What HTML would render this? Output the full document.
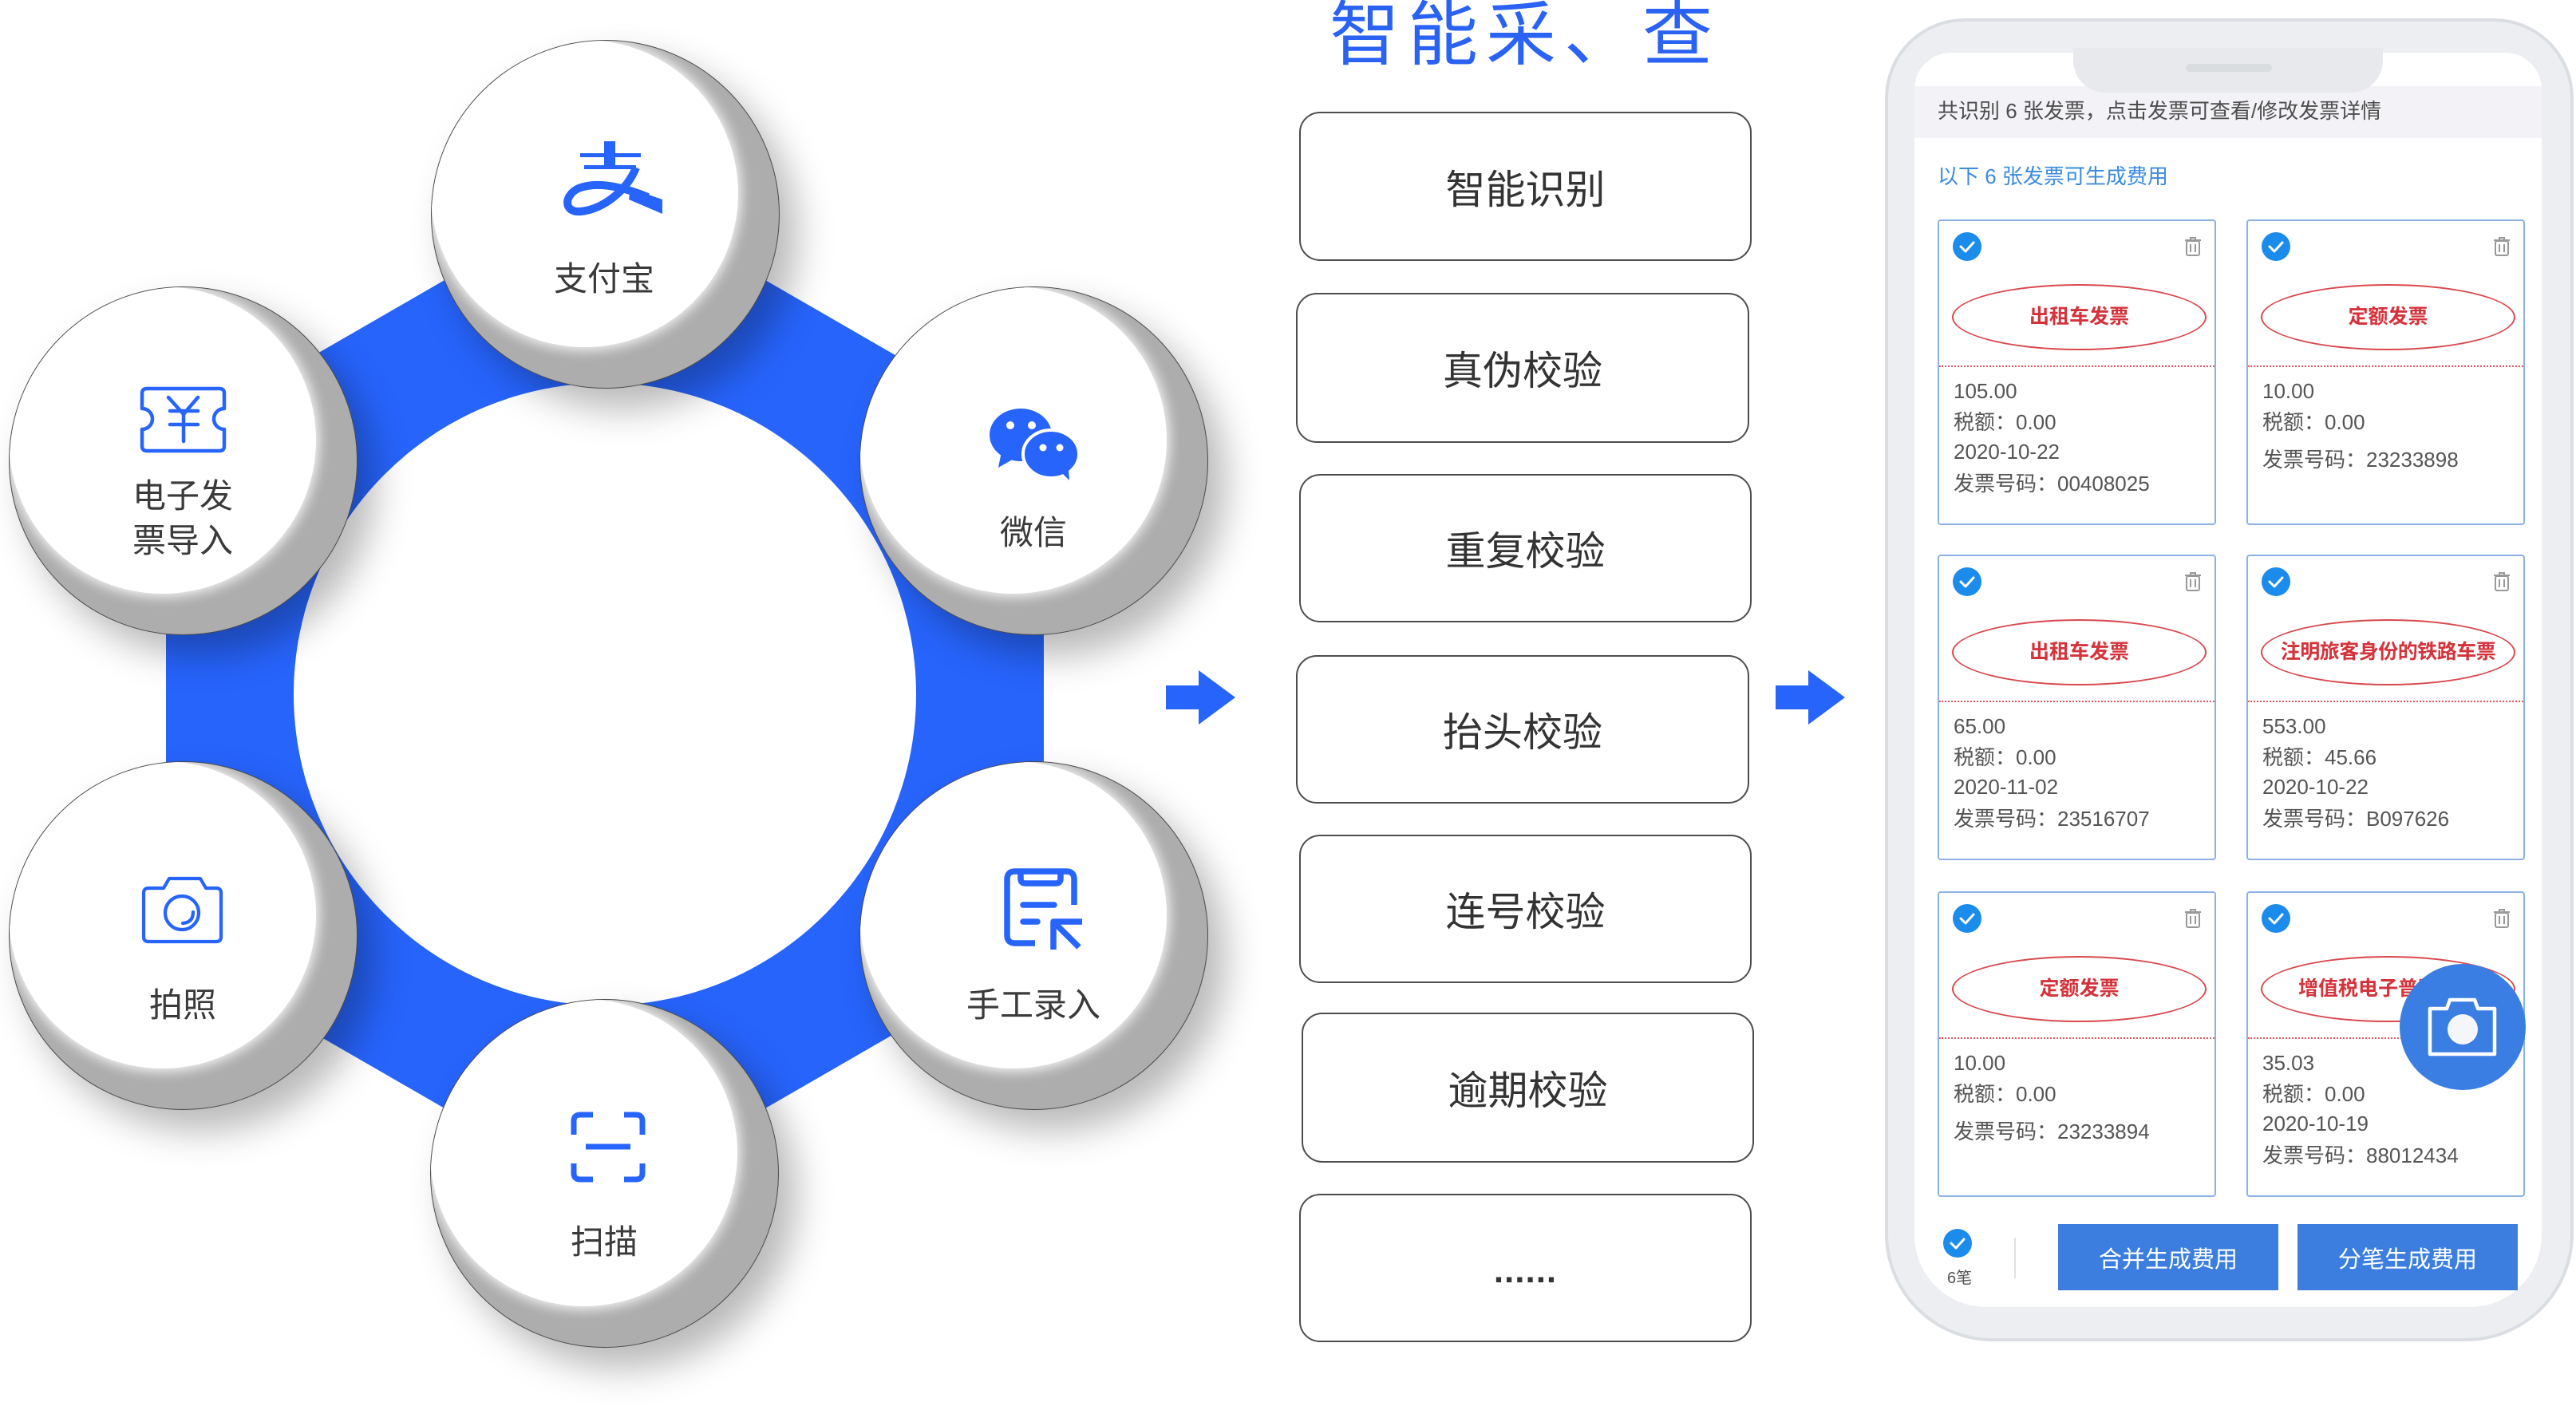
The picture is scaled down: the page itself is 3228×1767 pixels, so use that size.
<!DOCTYPE html>
<html><head><meta charset="utf-8">
<style>
*{margin:0;padding:0;box-sizing:border-box}
html,body{width:3228px;height:1767px;overflow:hidden;background:#fff}
body{position:relative;font-family:"Liberation Sans","Noto Sans CJK SC",sans-serif;color:#333}
.abs{position:absolute}
.circ{position:absolute;width:437px;height:437px;border-radius:50%;border:1.5px solid #4a4a4a;background:#adadad;overflow:hidden;box-shadow:22px 26px 46px rgba(0,0,0,.28);z-index:1}
.circ::before{content:"";position:absolute;left:-1px;top:-1px;width:385px;height:385px;border-radius:50%;background:#fff;box-shadow:0 0 16px 3px rgba(255,255,255,.95)}
.lbl{position:absolute;z-index:3;font-size:42px;line-height:56px;color:#3a3a3a;text-align:center;white-space:nowrap;transform:translateX(-50%)}
.box{position:absolute;border:2px solid #4d4d4d;border-radius:26px;display:flex;align-items:center;justify-content:center;font-size:50px;color:#333;background:#fff}
.phone{position:absolute;left:2362px;top:23px;width:863px;height:1658px;border-radius:100px 100px 135px 135px;background:#eceef1;border:4px solid #dadee2}
.screen{position:absolute;left:2399px;top:66px;width:786px;height:1572px;background:#fff;border-radius:46px 46px 90px 90px;overflow:hidden}
.card{position:absolute;width:349px;height:383px;border:2px solid #8bb2e2;border-radius:4px;background:#fff}
.chk{position:absolute;left:17px;top:14px;width:36px;height:36px}
.trash{position:absolute;left:307px;top:19px;width:22px;height:26px}
.ell{position:absolute;left:16px;top:79px;width:319px;height:83px;border:2.5px solid #d9484e;border-radius:50%;text-align:center;font-size:25px;line-height:78px;color:#d5333b;white-space:nowrap;font-weight:bold}
.dash{position:absolute;left:0;right:0;top:181px;border-top:2px dotted #e0585e}
.ct{position:absolute;left:18px;font-size:26px;line-height:26px;color:#555;white-space:nowrap}
.btn{position:absolute;top:1534px;height:83px;width:276px;background:#3b7ee0;color:#fff;font-size:29px;display:flex;align-items:center;justify-content:center}
</style></head>
<body>

<!-- hexagon ring -->
<svg class="abs" style="left:0;top:0;z-index:0" width="3228" height="1767">
  <polygon points="758,235 1308,552.5 1308,1187.5 758,1505 208,1187.5 208,552.5" fill="#2764fc"/>
  <circle cx="758" cy="870" r="390" fill="#fff"/>
</svg>

<!-- circles -->
<div class="circ" style="left:540px;top:50px"></div>
<div class="circ" style="left:11px;top:359px"></div>
<div class="circ" style="left:1077px;top:359px"></div>
<div class="circ" style="left:11px;top:954px"></div>
<div class="circ" style="left:1077px;top:954px"></div>
<div class="circ" style="left:539px;top:1252px"></div>

<!-- icons & arrows -->
<svg class="abs" style="left:0;top:0;z-index:2" width="3228" height="1767">
  <g fill="#2764fc">
    <!-- alipay -->
    <rect x="757" y="177" width="14" height="33"/>
    <rect x="727" y="192" width="76" height="5"/>
    <rect x="732" y="207" width="65" height="5"/>
    <polygon points="790,236 830,250 830,268 788,250"/>
    <!-- arrows -->
    <rect x="1461" y="859" width="42" height="30"/>
    <polygon points="1502,840 1548,874 1502,908"/>
    <rect x="2225" y="859" width="42" height="30"/>
    <polygon points="2266,840 2312,874 2266,908"/>
    <!-- wechat -->
    <ellipse cx="1279" cy="545" rx="39" ry="33"/>
    <polygon points="1255,566 1251,586 1272,574"/>
  </g>
  <path d="M797 210 C 785 240, 755 262, 728 265 C 706 267, 706 245, 725 236 C 750 226, 785 236, 812 247" fill="none" stroke="#2764fc" stroke-width="10"/>
  <!-- wechat small bubble -->
  <ellipse cx="1317" cy="569" rx="35" ry="30" fill="#2764fc" stroke="#fff" stroke-width="4"/>
  <polygon points="1332,594 1340,602 1339,588" fill="#2764fc"/>
  <g fill="#fff">
    <circle cx="1266" cy="533" r="5"/><circle cx="1293" cy="533" r="5"/>
    <circle cx="1307" cy="561" r="4.5"/><circle cx="1328" cy="561" r="4.5"/>
  </g>
  <!-- ticket -->
  <g fill="none" stroke="#2764fc" stroke-width="4.5" stroke-linecap="round" stroke-linejoin="round">
    <path d="M184 487 H275 Q281 487 281 493 V512 A13 13 0 0 0 281 538 V559 Q281 565 275 565 H184 Q178 565 178 559 V538 A13 13 0 0 0 178 512 V493 Q178 487 184 487 Z"/>
    <polyline points="211,498 230,519 248,498"/>
    <line x1="213" y1="515" x2="248" y2="515"/>
    <line x1="213" y1="532" x2="248" y2="532"/>
    <line x1="230" y1="519" x2="230" y2="553"/>
  </g>
  <!-- manual entry -->
  <g fill="none" stroke="#2764fc" stroke-width="7.5" stroke-linejoin="round">
    <path d="M1297 1182 H1272 Q1262 1182 1262 1172 V1102 Q1262 1092 1272 1092 H1336 Q1346 1092 1346 1102 V1134"/>
    <path d="M1279 1092 V1101 Q1279 1107 1285 1107 H1323 Q1329 1107 1329 1101 V1092"/>
    <path d="M1282 1134 H1321 M1282 1155 H1300" stroke-linecap="round"/>
    <path d="M1356 1155 H1320 V1190 M1321 1156 L1352 1187"/>
  </g>
  <!-- camera -->
  <g fill="none" stroke="#2764fc" stroke-width="4.2" stroke-linejoin="round" stroke-linecap="round">
    <path d="M186 1113 H205 L212 1101 H251 L258 1113 H271 Q277 1113 277 1119 V1174 Q277 1180 271 1180 H186 Q180 1180 180 1174 V1119 Q180 1113 186 1113 Z"/>
    <circle cx="228" cy="1144" r="21"/>
    <path d="M242 1143 Q242 1156 229 1157"/>
  </g>
  <!-- scan -->
  <g fill="none" stroke="#2764fc" stroke-width="7">
    <path d="M719 1422 V1405 Q719 1397 727 1397 H743"/>
    <path d="M782 1397 H797 Q805 1397 805 1405 V1422"/>
    <path d="M719 1458 V1470 Q719 1478 727 1478 H743"/>
    <path d="M782 1478 H797 Q805 1478 805 1470 V1458"/>
    <path d="M734 1437 H790"/>
  </g>
</svg>

<!-- circle labels -->
<div class="lbl" style="left:757px;top:322px">支付宝</div>
<div class="lbl" style="left:229px;top:594px">电子发<br>票导入</div>
<div class="lbl" style="left:1295px;top:640px">微信</div>
<div class="lbl" style="left:1295px;top:1232px">手工录入</div>
<div class="lbl" style="left:229px;top:1232px">拍照</div>
<div class="lbl" style="left:757px;top:1529px">扫描</div>

<!-- title -->
<div class="abs" style="left:1666px;top:0;font-size:88px;line-height:88px;letter-spacing:10px;color:#2a62f4;white-space:nowrap">智能采、查</div>

<!-- boxes -->
<div class="box" style="left:1628px;top:140px;width:567px;height:187px">智能识别</div>
<div class="box" style="left:1624px;top:367px;width:568px;height:188px">真伪校验</div>
<div class="box" style="left:1628px;top:594px;width:567px;height:186px">重复校验</div>
<div class="box" style="left:1624px;top:821px;width:568px;height:186px">抬头校验</div>
<div class="box" style="left:1628px;top:1046px;width:567px;height:186px">连号校验</div>
<div class="box" style="left:1631px;top:1269px;width:567px;height:188px">逾期校验</div>
<div class="box" style="left:1628px;top:1496px;width:567px;height:186px"><span style="font-weight:bold;font-size:44px;letter-spacing:1px;position:relative;top:4px">......</span></div>

<!-- phone -->
<div class="phone"></div>
<div class="screen"></div>
<div class="abs" style="left:2399px;top:108px;width:786px;height:65px;background:#f3f2f7"></div>
<div class="abs" style="left:2598px;top:60px;width:388px;height:56px;background:#e7e9ec;border-radius:0 0 40px 40px"></div>
<div class="abs" style="left:2739px;top:80px;width:108px;height:10px;background:#dadde0;border-radius:5px"></div>
<div class="abs" style="left:2428px;top:126px;font-size:26px;line-height:26px;color:#4d4d4d;white-space:nowrap">共识别 6 张发票，点击发票可查看/修改发票详情</div>
<div class="abs" style="left:2428px;top:208px;font-size:26px;line-height:26px;color:#3b8be0;white-space:nowrap">以下 6 张发票可生成费用</div>

<svg width="0" height="0" style="position:absolute">
  <defs>
    <symbol id="chk" viewBox="0 0 36 36"><circle cx="18" cy="18" r="18" fill="#1b8bec"/><path d="M10 18 L16 24 L26 13" fill="none" stroke="#fff" stroke-width="3" stroke-linecap="round" stroke-linejoin="round"/></symbol>
    <symbol id="trash" viewBox="0 0 22 26"><g fill="none" stroke="#999" stroke-width="2"><path d="M1 5 H21 M8 5 V2 H14 V5"/><rect x="3" y="6" width="16" height="18" rx="2"/><path d="M8 10 V20 M14 10 V20"/></g></symbol>
  </defs>
</svg>

<!-- card 1 -->
<div class="card" style="left:2428px;top:275px">
  <svg class="chk"><use href="#chk"/></svg><svg class="trash"><use href="#trash"/></svg>
  <div class="ell">出租车发票</div><div class="dash"></div>
  <div class="ct" style="top:200px">105.00</div>
  <div class="ct" style="top:239px">税额：0.00</div>
  <div class="ct" style="top:276px">2020-10-22</div>
  <div class="ct" style="top:316px">发票号码：00408025</div>
</div>
<!-- card 2 -->
<div class="card" style="left:2815px;top:275px">
  <svg class="chk"><use href="#chk"/></svg><svg class="trash"><use href="#trash"/></svg>
  <div class="ell">定额发票</div><div class="dash"></div>
  <div class="ct" style="top:200px">10.00</div>
  <div class="ct" style="top:239px">税额：0.00</div>
  <div class="ct" style="top:286px">发票号码：23233898</div>
</div>
<!-- card 3 -->
<div class="card" style="left:2428px;top:695px">
  <svg class="chk"><use href="#chk"/></svg><svg class="trash"><use href="#trash"/></svg>
  <div class="ell">出租车发票</div><div class="dash"></div>
  <div class="ct" style="top:200px">65.00</div>
  <div class="ct" style="top:239px">税额：0.00</div>
  <div class="ct" style="top:276px">2020-11-02</div>
  <div class="ct" style="top:316px">发票号码：23516707</div>
</div>
<!-- card 4 -->
<div class="card" style="left:2815px;top:695px">
  <svg class="chk"><use href="#chk"/></svg><svg class="trash"><use href="#trash"/></svg>
  <div class="ell" style="letter-spacing:-0.5px">注明旅客身份的铁路车票</div><div class="dash"></div>
  <div class="ct" style="top:200px">553.00</div>
  <div class="ct" style="top:239px">税额：45.66</div>
  <div class="ct" style="top:276px">2020-10-22</div>
  <div class="ct" style="top:316px">发票号码：B097626</div>
</div>
<!-- card 5 -->
<div class="card" style="left:2428px;top:1117px">
  <svg class="chk"><use href="#chk"/></svg><svg class="trash"><use href="#trash"/></svg>
  <div class="ell">定额发票</div><div class="dash"></div>
  <div class="ct" style="top:200px">10.00</div>
  <div class="ct" style="top:239px">税额：0.00</div>
  <div class="ct" style="top:286px">发票号码：23233894</div>
</div>
<!-- card 6 -->
<div class="card" style="left:2815px;top:1117px">
  <svg class="chk"><use href="#chk"/></svg><svg class="trash"><use href="#trash"/></svg>
  <div class="ell">增值税电子普通发票</div><div class="dash"></div>
  <div class="ct" style="top:200px">35.03</div>
  <div class="ct" style="top:239px">税额：0.00</div>
  <div class="ct" style="top:276px">2020-10-19</div>
  <div class="ct" style="top:316px">发票号码：88012434</div>
</div>

<!-- FAB -->
<svg class="abs" style="left:3006px;top:1207px" width="160" height="160">
  <circle cx="80" cy="80" r="79" fill="#3a7de3"/>
  <path d="M39 57 H60 L64 46 H95 L99 57 H120 V114 H39 Z" fill="none" stroke="#fff" stroke-width="4.5" stroke-linejoin="round"/>
  <circle cx="80" cy="83" r="19" fill="#f4f6fa"/>
</svg>

<!-- bottom bar -->
<svg class="abs" style="left:2435px;top:1540px" width="36" height="36"><use href="#chk"/></svg>
<div class="abs" style="left:2440px;top:1592px;font-size:20px;line-height:20px;color:#555">6笔</div>
<div class="abs" style="left:2524px;top:1551px;width:2px;height:51px;background:#e2e2e2"></div>
<div class="btn" style="left:2579px">合并生成费用</div>
<div class="btn" style="left:2879px">分笔生成费用</div>

</body></html>
